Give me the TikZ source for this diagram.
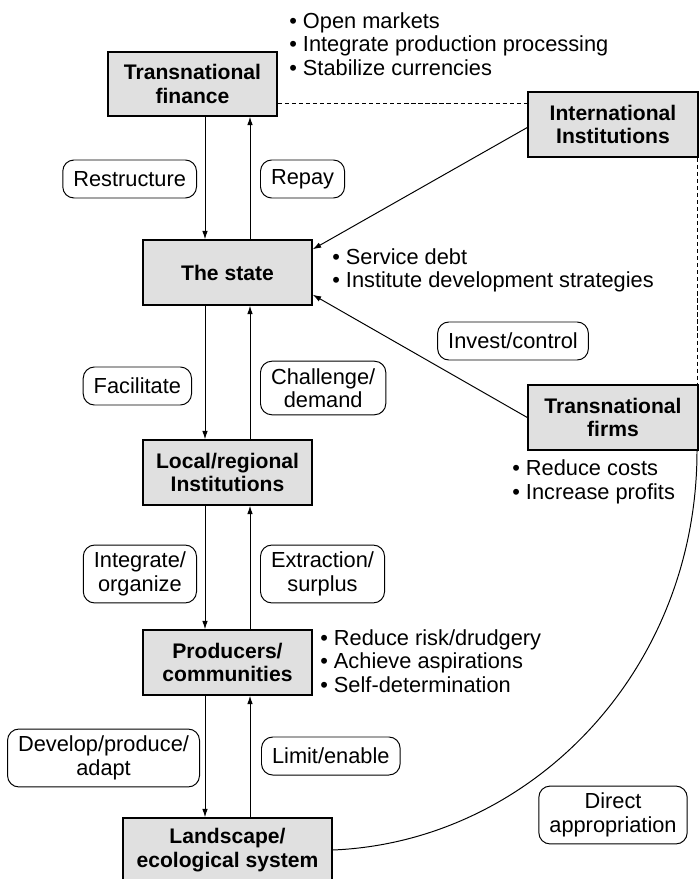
\documentclass[tikz,border=0pt]{standalone}
\usepackage{fontspec}
\setmainfont{Liberation Sans}
\usetikzlibrary{positioning,arrows.meta,calc}

\begin{document}
\begin{tikzpicture}[
  x=0.025cm, y=-0.025cm,
  every node/.style={font=\fontsize{15.5}{16.7}\selectfont},
  actor/.style={draw, line width=1pt, fill=black!12, align=center, inner sep=0pt, minimum width=4.225cm, minimum height=1.625cm, font=\fontsize{15}{17}\selectfont\bfseries},
  rel/.style={draw, line width=0.7pt, rounded corners=8pt, align=center, inner xsep=7.5pt, inner ysep=5pt, minimum height=0.95cm},
  pts/.style={align=left, anchor=west, inner sep=0pt},
  arr/.style={line width=0.7pt, -{Latex[length=6pt,width=4pt]}},
  lnk/.style={line width=0.7pt},
]
\useasboundingbox (0,0) rectangle (699,879);

\node[actor, minimum height=1.6cm] (fin) at (192.5,84) {Transnational\\finance};
\node[actor, minimum width=4.25cm] (intl) at (613,124.5) {International\\Institutions};
\node[actor] (state) at (227.5,272.5) {The state};
\node[actor, minimum width=4.25cm] (firms) at (613,417.5) {Transnational\\firms};
\node[actor] (local) at (227.5,472.5) {Local/regional\\Institutions};
\node[actor] (prod) at (227.5,662.5) {Producers/\\communities};
\node[actor, minimum width=5.225cm, minimum height=1.6cm] (land) at (227.5,850) {Landscape/\\ecological system};

\node[rel, anchor=east] (restr) at (197,179) {Restructure};
\node[rel, anchor=west] (repay) at (260,179) {Repay};
\node[rel, anchor=east] (facil) at (192,386) {Facilitate};
\node[rel, anchor=west] (chal) at (260,388) {Challenge/\\demand};
\node[rel, anchor=east] (integ) at (197,574) {Integrate/\\organize};
\node[rel, anchor=west] (extr) at (260,574) {Extraction/\\surplus};
\node[rel, anchor=east] (dev) at (200,758) {Develop/produce/\\adapt};
\node[rel, anchor=west] (limit) at (261,756) {Limit/enable};
\node[rel] (invest) at (513,341) {Invest/control};
\node[rel] (direct) at (613,815) {Direct\\appropriation};

\node[pts] (finpts) at (289,44) {\textbullet\ Open markets\\\textbullet\ Integrate production processing\\\textbullet\ Stabilize currencies};
\node[pts] (statepts) at (332,270.5) {\textbullet\ Service debt\\\textbullet\ Institute development strategies};
\node[pts] (firmspts) at (512,482) {\textbullet\ Reduce costs\\\textbullet\ Increase profits};
\node[pts] (prodpts) at (320,661) {\textbullet\ Reduce risk/drudgery\\\textbullet\ Achieve aspirations\\\textbullet\ Self-determination};

\coordinate (dn) at (205,0);
\coordinate (up) at (250,0);
\coordinate (rt) at (697,0);
\coordinate (dl) at ($(fin.east)+(0,19)$);

\draw[arr] (fin.south -| dn) -- (state.north -| dn); \draw[arr] (state.north -| up) -- (fin.south -| up);
\draw[arr] (state.south -| dn) -- (local.north -| dn); \draw[arr] (local.north -| up) -- (state.south -| up);
\draw[arr] (local.south -| dn) -- (prod.north -| dn); \draw[arr] (prod.north -| up) -- (local.south -| up);
\draw[arr] (prod.south -| dn) -- (land.north -| dn); \draw[arr] (land.north -| up) -- (prod.south -| up);

\draw[arr] ($(intl.west)+(0,3)$) -- ($(state.north east)+(0,10)$);
\draw[arr] (firms.west) -- ($(state.south east)+(0,-11)$);
\draw[lnk, densely dashed] (dl) -- (dl -| intl.west);
\draw[lnk, densely dashed] (intl.south -| rt) -- (firms.north -| rt);
\draw[lnk] (land.east) .. controls (530,842) and (697,672) .. (firms.south -| rt);
\end{tikzpicture}
\end{document}
